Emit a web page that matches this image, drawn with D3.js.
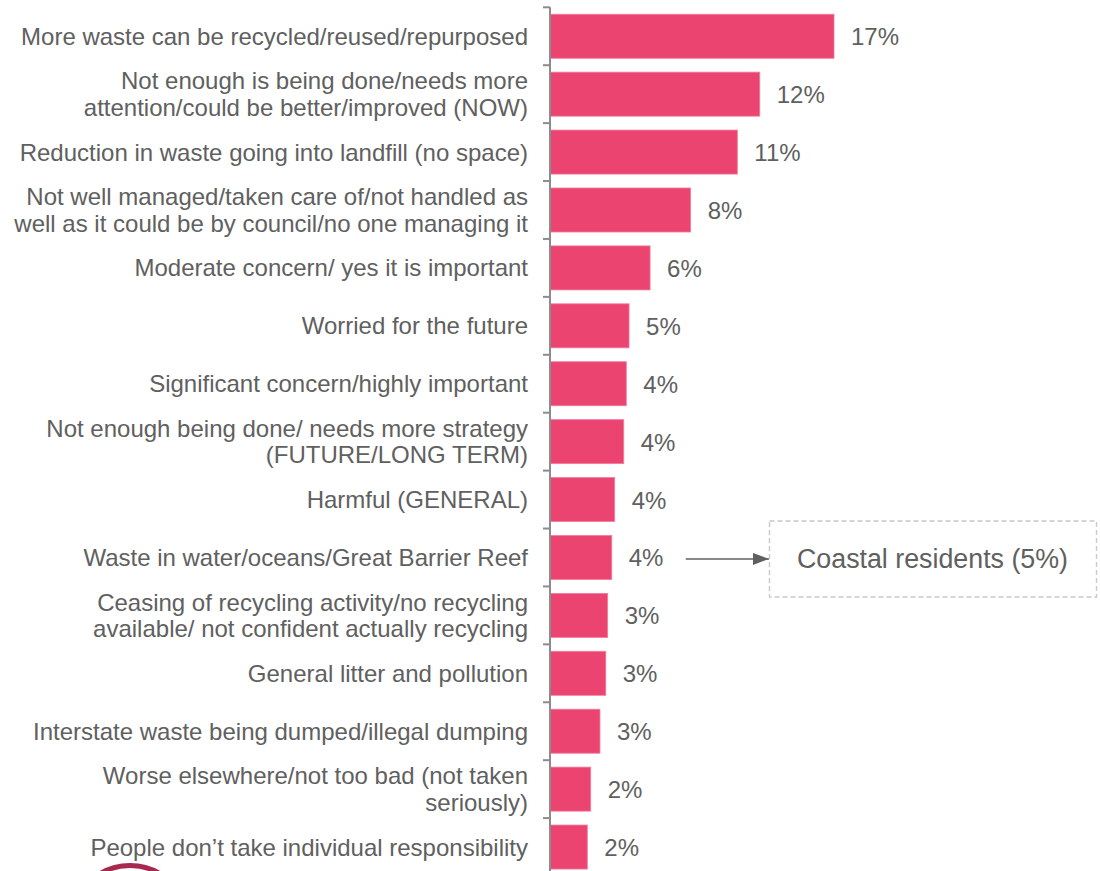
<!DOCTYPE html>
<html>
<head>
<meta charset="utf-8">
<script src="https://cdn.jsdelivr.net/npm/d3@7"></script>
<style>
  html, body { margin: 0; padding: 0; background: #ffffff; }
  svg { display: block; font-family: "Liberation Sans", Arial, sans-serif; }
</style>
</head>
<body>
<svg id="chart" width="1100" height="871"></svg>
<script>
// Share of mentions per theme (percent), top to bottom
const categories = [
  "More waste can be recycled/reused/repurposed",
  "Not enough is being done/needs more\nattention/could be better/improved (NOW)",
  "Reduction in waste going into landfill (no space)",
  "Not well managed/taken care of/not handled as\nwell as it could be by council/no one managing it",
  "Moderate concern/ yes it is important",
  "Worried for the future",
  "Significant concern/highly important",
  "Not enough being done/ needs more strategy\n(FUTURE/LONG TERM)",
  "Harmful (GENERAL)",
  "Waste in water/oceans/Great Barrier Reef",
  "Ceasing of recycling activity/no recycling\navailable/ not confident actually recycling",
  "General litter and pollution",
  "Interstate waste being dumped/illegal dumping",
  "Worse elsewhere/not too bad (not taken\nseriously)",
  "People don\u2019t take individual responsibility"
];
const values = [16.6, 12.26, 10.95, 8.22, 5.85, 4.62, 4.46, 4.31, 3.78, 3.61, 3.37, 3.26, 2.92, 2.38, 2.18];

// Callout attached to one of the bars
const calloutCategory = "Waste in water/oceans/Great Barrier Reef";
const calloutText = "Coastal residents (5%)";

const data = categories.map((c, i) => ({ category: c, value: values[i] }));

const svg = d3.select("#chart");
const textColor = "#606060";
const barColor = "#EC4470";
const axisColor = "#8c8c8c";

const x = d3.scaleLinear().domain([0, 20]).range([550, 550 + 20 / 0.05845]);
const y = d3.scaleBand()
  .domain(categories)
  .range([7.3, 876])
  .paddingInner(0.24)
  .paddingOuter(0.12);
const step = y.step();
const fmt = v => d3.format(".0f")(v) + "%";

// Bars
svg.append("g").selectAll("rect")
  .data(data)
  .join("rect")
  .attr("x", x(0))
  .attr("y", d => y(d.category))
  .attr("width", d => x(d.value) - x(0))
  .attr("height", y.bandwidth())
  .attr("fill", barColor)
  .attr("stroke", "#f07d9c")
  .attr("stroke-width", 0.8);

// Category axis: vertical line with ticks on band boundaries
const axis = svg.append("g");
const r0 = y.range()[0];
axis.append("line")
  .attr("x1", x(0)).attr("x2", x(0))
  .attr("y1", r0).attr("y2", r0 + step * categories.length)
  .attr("stroke", axisColor).attr("stroke-width", 2);
axis.selectAll("line.tick")
  .data(d3.range(categories.length))
  .join("line")
  .attr("class", "tick")
  .attr("x1", x(0) - 7).attr("x2", x(0))
  .attr("y1", i => r0 + i * step).attr("y2", i => r0 + i * step)
  .attr("stroke", axisColor).attr("stroke-width", 2);

// Category labels (one or two lines, right-aligned against the axis)
const lineGap = 26.5;
const labels = svg.append("g")
  .attr("font-size", 24)
  .attr("fill", textColor)
  .attr("text-anchor", "end");
labels.selectAll("text")
  .data(data)
  .join("text")
  .attr("x", 528)
  .attr("y", d => y(d.category) + y.bandwidth() / 2)
  .each(function (d) {
    const lines = d.category.split("\n");
    const t = d3.select(this);
    lines.forEach((ln, k) => {
      t.append("tspan")
        .attr("x", 528)
        .attr("dy", k === 0 ? ((-(lines.length - 1) / 2) * lineGap + 8.5) : lineGap)
        .text(ln);
    });
  });

// Value labels
svg.append("g")
  .attr("font-size", 24)
  .attr("fill", textColor)
  .selectAll("text")
  .data(data)
  .join("text")
  .attr("x", d => x(d.value) + 17)
  .attr("y", d => y(d.category) + y.bandwidth() / 2 + 9)
  .text(d => fmt(d.value));

// Callout: arrow from the value label to a dashed box
const cd = data.find(d => d.category === calloutCategory);
const cy = y(cd.category) + y.bandwidth() / 2 + 1.5;
const arrowStart = x(cd.value) + 74;
const boxX = 769, boxW = 327, boxH = 76;

svg.append("defs").append("marker")
  .attr("id", "arrowhead")
  .attr("viewBox", "0 0 16 12")
  .attr("refX", 16).attr("refY", 6)
  .attr("markerWidth", 16).attr("markerHeight", 12)
  .attr("markerUnits", "userSpaceOnUse")
  .attr("orient", "auto")
  .append("path")
  .attr("d", "M0,0 L16,6 L0,12 Z")
  .attr("fill", textColor);

svg.append("line")
  .attr("x1", arrowStart).attr("x2", boxX)
  .attr("y1", cy).attr("y2", cy)
  .attr("stroke", textColor).attr("stroke-width", 1.6)
  .attr("marker-end", "url(#arrowhead)");

svg.append("rect")
  .attr("x", boxX + 0.5).attr("y", cy - boxH / 2)
  .attr("width", boxW).attr("height", boxH)
  .attr("fill", "none")
  .attr("stroke", "#c9c9c9").attr("stroke-width", 1.4)
  .attr("stroke-dasharray", "5,3");

svg.append("text")
  .attr("x", boxX + boxW / 2).attr("y", cy + 9.5)
  .attr("text-anchor", "middle")
  .attr("font-size", 26.8)
  .attr("fill", textColor)
  .text(calloutText);

// Partial logo ring at the bottom edge
svg.append("circle")
  .attr("cx", 130).attr("cy", 923)
  .attr("r", 57.5)
  .attr("fill", "none")
  .attr("stroke", "#a8294f")
  .attr("stroke-width", 5);
</script>
</body>
</html>
